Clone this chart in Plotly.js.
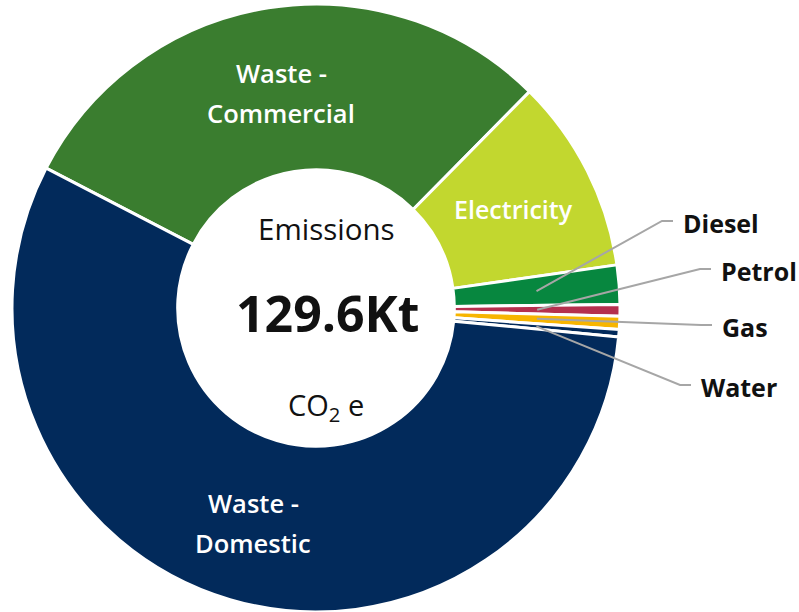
<!DOCTYPE html>
<html><head><meta charset="utf-8">
<script src="https://cdn.plot.ly/plotly-3.0.1.min.js"></script>
<style>html,body{margin:0;padding:0;background:#fff;}#chart{width:799px;height:612px;}</style>
</head><body><div id="chart"></div>
<script>
// ---- data ----
const categories = ["Waste - Commercial", "Electricity", "Diesel", "Petrol", "Gas", "Water", "Waste - Domestic"];
const emissionsKt = [38.6, 13.4, 2.7, 0.8, 0.9, 0.5, 72.7];
const insideLabelled = ["Waste - Commercial", "Electricity", "Waste - Domestic"];
const centerTop = "Emissions";
const totalLabel = "129.6Kt";
const centerBottom = "CO<sub>2</sub> e";

// ---- styles / layout ----
const sliceColors = ["#3a7d2f", "#c2d72f", "#07873f", "#b5304e", "#f7b500", "#022a5b", "#022a5b"];
const W = 799, H = 612;
const dom = {x: [12 / W, 620 / W], y: [0, 608 / H]};
const hole = 0.455;
const rotation = -62.6;
const labelFont = "'Open Sans', sans-serif";
const centerFont = "'Open Sans', sans-serif";
const insideFontSize = {"Waste - Commercial": 25.5, "Electricity": 25, "Waste - Domestic": 25.5};
const lineGap = 40;
// elbow point (px) of each leader line, for the outside labels
const elbow = {"Diesel": [662, 221], "Petrol": [700, 269], "Gas": [701, 325], "Water": [680, 385]};
const runLen = 11;

// geometry (same as plotly's pie placement)
const cx = W * (dom.x[0] + dom.x[1]) / 2;
const cy = H * (1 - (dom.y[0] + dom.y[1]) / 2);
const r = Math.min(W * (dom.x[1] - dom.x[0]), H * (dom.y[1] - dom.y[0])) / 2;
const rMid = r * (1 + hole) / 2;
const total = emissionsKt.reduce((a, b) => a + b, 0);
const midAngle = {};
let cum = 0;
categories.forEach((c, i) => {
  const a0 = rotation + 360 * cum / total;
  cum += emissionsKt[i];
  const a1 = rotation + 360 * cum / total;
  midAngle[c] = (a0 + a1) / 2;
});
const px = x => x / W, py = y => 1 - y / H;
const ringPoint = c => {
  const a = midAngle[c] * Math.PI / 180;
  return [cx + rMid * Math.sin(a), cy - rMid * Math.cos(a)];
};

const shapes = [], annotations = [];
// inside labels
insideLabelled.forEach(c => {
  const [mx, my] = ringPoint(c);
  const lines = c.includes(" - ") ? [c.split(" - ")[0] + " -", c.split(" - ")[1]] : [c];
  lines.forEach((t, k) => {
    const off = lines.length === 1 ? 1 : (k - (lines.length - 1) / 2) * lineGap + 3;
    annotations.push({xref: "paper", yref: "paper", x: px(mx), y: py(my + off),
      xanchor: "center", yanchor: "middle", showarrow: false, text: t,
      font: {family: labelFont, size: insideFontSize[c], color: "#ffffff", weight: 600}});
  });
});
// outside labels with leader lines
categories.filter(c => !insideLabelled.includes(c)).forEach(c => {
  const [sx, sy] = ringPoint(c);
  const [ex, ey] = elbow[c];
  shapes.push({type: "path", xref: "paper", yref: "paper",
    path: `M ${px(sx)} ${py(sy)} L ${px(ex)} ${py(ey)} L ${px(ex + runLen)} ${py(ey)}`,
    line: {color: "#a6a6a6", width: 2}});
  annotations.push({xref: "paper", yref: "paper", x: px(ex + runLen + 8), y: py(ey + 2),
    xanchor: "left", yanchor: "middle", showarrow: false, text: c,
    font: {family: labelFont, size: 25, color: "#111", weight: 700}});
});

annotations.push(
  {xref: "paper", yref: "paper", x: px(cx + 10), y: py(228), xanchor: "center", yanchor: "middle",
   showarrow: false, text: centerTop, font: {family: centerFont, size: 29.5, color: "#111"}},
  {xref: "paper", yref: "paper", x: px(cx + 12), y: py(313), xanchor: "center", yanchor: "middle",
   showarrow: false, text: totalLabel, font: {family: centerFont, size: 50, color: "#111", weight: "bold"}},
  {xref: "paper", yref: "paper", x: px(cx + 10), y: py(406), xanchor: "center", yanchor: "middle",
   showarrow: false, text: centerBottom, font: {family: centerFont, size: 29, color: "#111"}}
);

const trace = {
  type: "pie", labels: categories, values: emissionsKt, sort: false,
  direction: "clockwise", rotation: rotation, hole: hole, domain: dom,
  marker: {colors: sliceColors, line: {color: "#ffffff", width: 3}},
  textinfo: "none", hoverinfo: "none", showlegend: false
};

Plotly.newPlot("chart", [trace], {
  width: W, height: H, margin: {l: 0, r: 0, t: 0, b: 0},
  paper_bgcolor: "#ffffff", showlegend: false, shapes: shapes, annotations: annotations
}, {displayModeBar: false, staticPlot: true});
</script></body></html>
